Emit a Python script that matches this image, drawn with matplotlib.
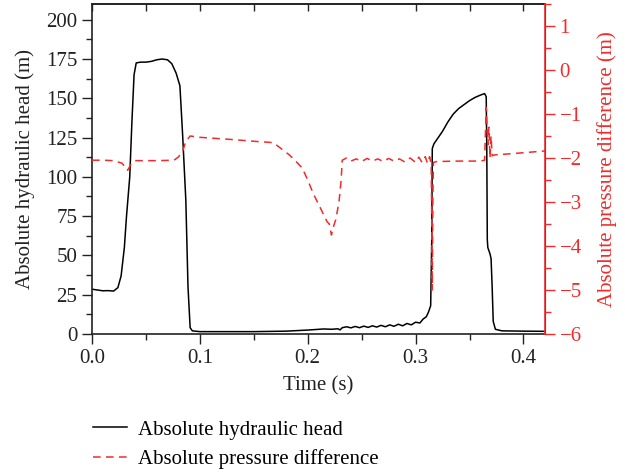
import matplotlib
matplotlib.use("Agg")
import matplotlib.pyplot as plt
from matplotlib.ticker import MultipleLocator

plt.rcParams["font.family"] = ["Liberation Serif", "DejaVu Serif"]

# absolute hydraulic head (m) vs time (s)
head_t = [0.000, 0.005, 0.010, 0.015, 0.020, 0.024, 0.027, 0.030, 0.032, 0.035,
          0.037, 0.039, 0.041, 0.045, 0.050, 0.055, 0.060, 0.065, 0.070, 0.074,
          0.078, 0.0815, 0.084, 0.087, 0.089, 0.091, 0.093, 0.100, 0.150,
          0.180, 0.200, 0.215, 0.222, 0.228, 0.230, 0.232, 0.236, 0.240, 0.244,
          0.248, 0.252, 0.256, 0.260, 0.264, 0.268, 0.272, 0.276, 0.280, 0.284,
          0.288, 0.292, 0.296, 0.300, 0.304, 0.307, 0.310, 0.312, 0.314, 0.3150,
          0.3155, 0.317, 0.320, 0.325, 0.330, 0.335, 0.340, 0.345, 0.350, 0.355,
          0.360, 0.364, 0.3655, 0.366, 0.3665, 0.367, 0.369, 0.370, 0.371, 0.372,
          0.374, 0.380, 0.400, 0.420]
head = [28.5, 28.0, 27.5, 27.6, 27.3, 29.5, 37, 55, 75, 100,
        135, 165, 172.5, 173, 173, 173.5, 174.5, 175, 174.5, 172,
        166, 158, 127, 85, 30, 4, 2, 1.5, 1.5,
        1.8, 2.5, 3.2, 3.0, 3.3, 2.6, 4.0, 4.6, 3.9, 4.8,
        4.0, 5.0, 4.2, 5.2, 4.4, 5.5, 4.6, 5.8, 4.9, 6.2,
        5.2, 6.7, 5.8, 7.5, 7.0, 9.5, 11, 14, 18, 60,
        118, 121, 124, 129, 135, 140, 143.5, 146, 148.5, 150.5,
        152, 153, 151, 120, 60, 55, 51, 48, 30, 8,
        3, 2, 1.8, 1.7]

# absolute pressure difference (m) vs time (s)
dp_t = [0.000, 0.010, 0.020, 0.028, 0.033, 0.036, 0.040, 0.060, 0.076, 0.080,
        0.084, 0.087, 0.091, 0.100, 0.130, 0.150, 0.168, 0.175, 0.183, 0.190,
        0.195, 0.200, 0.205, 0.210, 0.215, 0.218, 0.220, 0.222, 0.224, 0.226,
        0.229, 0.231, 0.232, 0.236, 0.240, 0.245, 0.250, 0.255, 0.260, 0.265,
        0.270, 0.275, 0.280, 0.285, 0.290, 0.295, 0.300, 0.303, 0.306, 0.309,
        0.311, 0.313, 0.3145, 0.315, 0.3155, 0.316, 0.3165, 0.320, 0.340, 0.360,
        0.364, 0.3655, 0.367, 0.368, 0.369, 0.370, 0.371, 0.373, 0.390, 0.420]
dp = [-2.05, -2.05, -2.06, -2.12, -2.28, -2.15, -2.06, -2.06, -2.05, -1.98,
      -1.85, -1.62, -1.50, -1.53, -1.58, -1.62, -1.65, -1.78, -1.93, -2.10,
      -2.23, -2.50, -2.80, -3.05, -3.30, -3.45, -3.50, -3.75, -3.55, -3.40,
      -3.00, -2.50, -2.05, -2.00, -2.07, -2.02, -2.08, -2.01, -2.07, -2.02,
      -2.08, -2.01, -2.07, -2.02, -2.09, -2.00, -2.10, -1.98, -2.10, -1.97,
      -2.12, -1.97, -2.15, -3.50, -5.00, -3.00, -2.10, -2.08, -2.07, -2.07,
      -2.05, -0.85, -1.70, -1.30, -2.00, -1.50, -1.95, -1.93, -1.90, -1.84]

red = "#f22a2a"
dark = "#222222"
fs = 15

fig = plt.figure(figsize=(6.25, 4.72), dpi=100)
ax = fig.add_axes([0.1472, 0.2924, 0.7248, 0.6991])
ax2 = ax.twinx()

l1, = ax.plot(head_t, head, color="black", lw=1.1, label="Absolute hydraulic head")
l2, = ax2.plot(dp_t, dp, color=red, lw=1.1, ls=(0, (5, 3.5)),
               label="Absolute pressure difference")

ax.set_xlim(0, 0.42)
ax.set_ylim(0, 210)
ax2.set_ylim(-6, 1.5)

ax.xaxis.set_major_locator(MultipleLocator(0.1))
ax.xaxis.set_minor_locator(MultipleLocator(0.05))
ax.yaxis.set_major_locator(MultipleLocator(25))
ax.yaxis.set_minor_locator(MultipleLocator(12.5))
ax2.yaxis.set_major_locator(MultipleLocator(1))
ax2.yaxis.set_minor_locator(MultipleLocator(0.5))

ax.tick_params(which="both", direction="out", labelsize=fs, colors=dark)
ax.tick_params(which="major", length=7, width=1)
ax.tick_params(which="minor", length=4.5, width=1)
ax2.tick_params(which="both", direction="out", labelsize=fs, colors=red)
ax2.tick_params(which="major", length=7, width=1)
ax2.tick_params(which="minor", length=4.5, width=1)

top = ax.secondary_xaxis("top")
top.xaxis.set_major_locator(MultipleLocator(0.05))
top.tick_params(direction="in", length=5, width=1, labeltop=False, colors=dark)

for s in ["left", "bottom", "top"]:
    ax.spines[s].set_color(dark)
    ax.spines[s].set_linewidth(1.2)
top.spines["top"].set_color(dark)
top.spines["top"].set_linewidth(1.2)
ax2.spines["right"].set_color(red)
ax2.spines["right"].set_linewidth(1.2)
for s in ["left", "bottom", "top"]:
    ax2.spines[s].set_visible(False)

ax.set_xticks([0.0, 0.1, 0.2, 0.3, 0.4])
ax.set_xticklabels(["0.0", "0.1", "0.2", "0.3", "0.4"])
ax2.set_yticks(range(-6, 2))
ax2.set_yticklabels(["\u22126", "\u22125", "\u22124", "\u22123", "\u22122", "\u22121", "0", "1"])

ax.set_xlabel("Time (s)", fontsize=fs, color=dark, labelpad=6)
ax.set_ylabel("Absolute hydraulic head (m)", fontsize=fs, color=dark, labelpad=8)
ax2.set_ylabel("Absolute pressure difference (m)", fontsize=fs, color=red, labelpad=11)

fig.legend(handles=[l1, l2], loc="center left", bbox_to_anchor=(0.135, 0.058),
           frameon=False, fontsize=fs, handlelength=1.65, labelspacing=0.45,
           borderaxespad=0, handletextpad=0.5)

fig.savefig("out.png", dpi=100)
